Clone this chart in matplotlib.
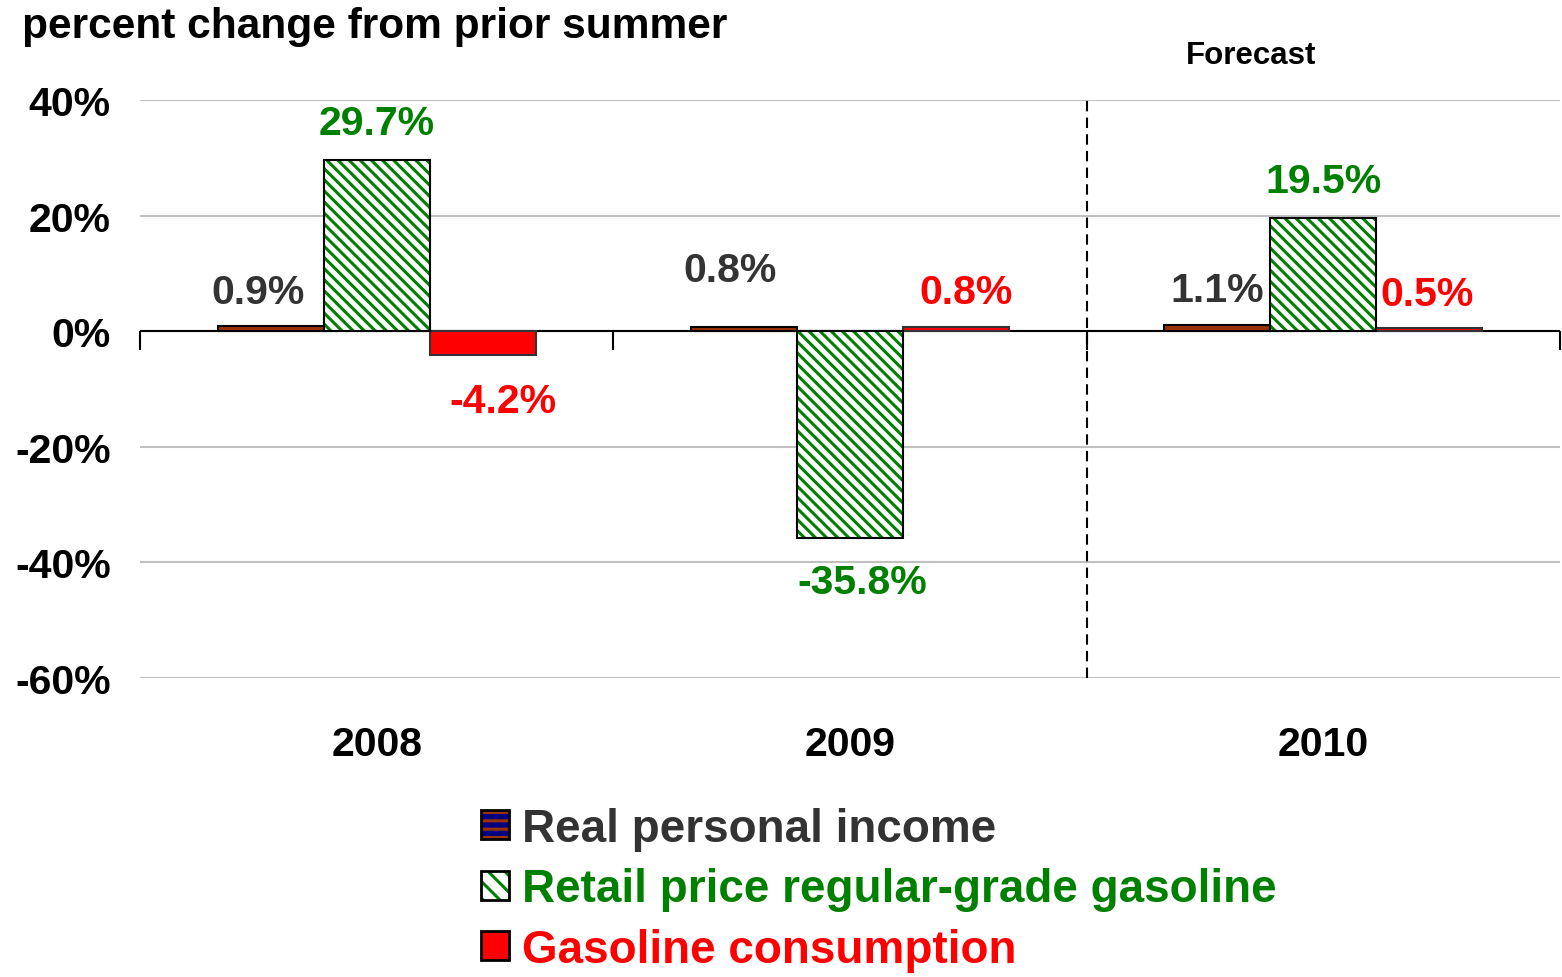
import numpy as np
import matplotlib.pyplot as plt
from matplotlib.patches import Patch
from matplotlib.legend_handler import HandlerTuple

plt.rcParams['font.family'] = ['Liberation Sans', 'DejaVu Sans']
plt.rcParams['font.weight'] = 'bold'
plt.rcParams['hatch.linewidth'] = 2.2

# data
years = ['2008', '2009', '2010']
income = [0.9, 0.8, 1.1]
gas_price = [29.7, -35.8, 19.5]
gas_cons = [-4.2, 0.8, 0.5]
series_names = ['Real personal income',
                'Retail price regular-grade gasoline',
                'Gasoline consumption']

# label nudges (x in group units, y in percent points from bar end)
inc_dx, inc_dy = [-0.026, -0.029, -0.001], [6.6, 10.5, 6.7]
prc_dx, prc_dy = [0.0, 0.026, 0.0], [7.0, -6.9, 7.1]
con_dx, con_dy = [0.043, 0.021, -0.004], [-7.2, 6.7, 6.6]

brown = '#993300'
navy = '#000080'
green = '#008000'
red = '#FF0000'
dark = '#333333'
hatch = '\\\\\\'

fig = plt.figure(figsize=(15.62, 9.78), dpi=100)
ax = fig.add_axes([140 / 1562, 1 - 679 / 978, 1420 / 1562, 578 / 978])

x = np.arange(len(years))
w = 0.224

ax.bar(x - w, income, w, color=brown, edgecolor='black', linewidth=1.5, zorder=3)
ax.bar(x, gas_price, w, color='white', edgecolor=green, hatch=hatch, linewidth=0, zorder=3)
ax.bar(x, gas_price, w, fill=False, edgecolor='black', linewidth=1.5, zorder=4)
ax.bar(x + w, gas_cons, w, color=red, edgecolor='#333333', linewidth=1.5, zorder=3)

for i in range(len(years)):
    ax.text(x[i] - w + inc_dx[i], income[i] + inc_dy[i], f'{income[i]:.1f}%',
            color=dark, fontsize=29.5, ha='center', va='center_baseline')
    ax.text(x[i] + prc_dx[i], gas_price[i] + prc_dy[i], f'{gas_price[i]:.1f}%',
            color=green, fontsize=29.5, ha='center', va='center_baseline')
    ax.text(x[i] + w + con_dx[i], gas_cons[i] + con_dy[i], f'{gas_cons[i]:.1f}%',
            color=red, fontsize=29.5, ha='center', va='center_baseline')

ax.set_xlim(-0.5, 2.5)
ax.set_ylim(-60, 40)
ax.set_yticks([40, 20, 0, -20, -40, -60])
ax.set_yticklabels([f'{v}%' for v in [40, 20, 0, -20, -40, -60]])
ax.tick_params(axis='y', length=0, pad=21, labelsize=29.5)
ax.set_xticks(x)
ax.set_xticklabels(years)
ax.tick_params(axis='x', length=0, pad=34, labelsize=29.5)
ax.grid(axis='y', color='#C0C0C0', linewidth=1.5, zorder=0)
for s in ax.spines.values():
    s.set_visible(False)

# zero line with group separators
ax.axhline(0, color='black', linewidth=1.5, zorder=2)
sec = ax.secondary_xaxis(0.6)
sec.set_xticks([-0.5, 0.5, 1.5, 2.5])
sec.set_xticklabels([])
sec.tick_params(length=14, width=1.5, direction='in')
for s in sec.spines.values():
    s.set_visible(False)

# forecast divider
ax.axvline(1.5, color='black', linestyle=(0, (5, 3)), linewidth=1.5, zorder=2)

fig.text(22 / 1562, 1 - 27 / 978, 'percent change from prior summer',
         fontsize=30.6, ha='left', va='center')
fig.text(1251 / 1562, 1 - 56 / 978, 'Forecast', fontsize=22.5,
         ha='center', va='center')

handles = [
    (Patch(facecolor=navy, edgecolor=brown, hatch='--', linewidth=0),
     Patch(fill=False, edgecolor='black', linewidth=2)),
    (Patch(facecolor='white', edgecolor=green, hatch='\\\\', linewidth=0),
     Patch(fill=False, edgecolor='black', linewidth=2)),
    Patch(facecolor=red, edgecolor='black', linewidth=2),
]
leg = fig.legend(handles, series_names, loc='upper left',
                 bbox_to_anchor=(481 / 1562, 1 - 808 / 978),
                 frameon=False, fontsize=33, borderpad=0, borderaxespad=0,
                 handlelength=0.6, handleheight=0.6, handletextpad=0.3,
                 labelspacing=0.36,
                 handler_map={tuple: HandlerTuple(ndivide=1, pad=0)})
for t, c in zip(leg.get_texts(), [dark, green, red]):
    t.set_color(c)

fig.savefig('out.png', dpi=100)
